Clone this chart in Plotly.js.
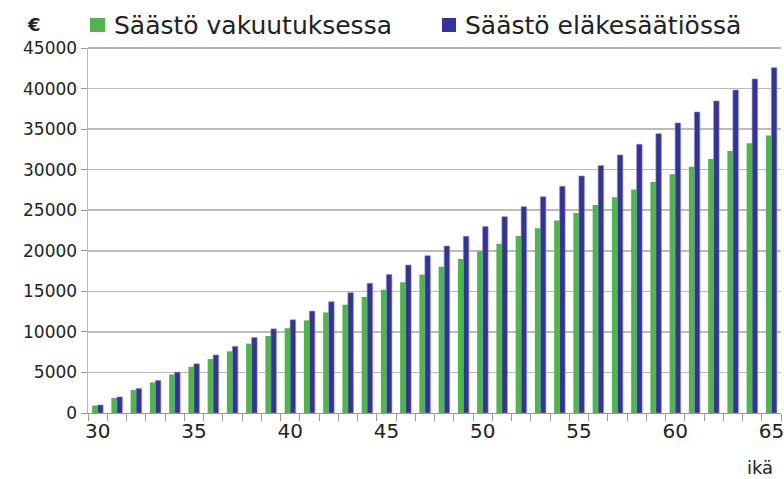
<!DOCTYPE html>
<html>
<head>
<meta charset="utf-8">
<script src="https://cdn.plot.ly/plotly-3.0.1.min.js"></script>
<style>html,body{margin:0;padding:0;background:#fff;}#chart{width:784px;height:479px;}</style>
</head>
<body>
<div id="chart"></div>
<script>
const ages = [30,31,32,33,34,35,36,37,38,39,40,41,42,43,44,45,46,47,48,49,50,51,52,53,54,55,56,57,58,59,60,61,62,63,64,65];
const savingsInsurance = [910,1860,2850,3780,4750,5700,6650,7600,8550,9500,10450,11420,12400,13350,14300,15200,16110,17060,18040,18990,19930,20880,21820,22770,23720,24660,25650,26590,27540,28480,29430,30370,31320,32310,33250,34200];
const savingsFoundation = [990,1980,3020,4010,5040,6070,7150,8220,9300,10370,11490,12560,13720,14830,15990,17060,18250,19400,20590,21780,22980,24210,25440,26670,27950,29220,30500,31810,33130,34440,35760,37110,38470,39830,41180,42580];
const seriesNames = ['Säästö vakuutuksessa', 'Säästö eläkesäätiössä'];
const seriesColors = ['#4db848', '#333399'];
const xTickVals = [30,35,40,45,50,55,60,65];
const yTickVals = [0,5000,10000,15000,20000,25000,30000,35000,40000,45000];

const font = 'DejaVu Sans, Verdana, sans-serif';
const traces = [
  {type:'bar', name: seriesNames[0], x: ages, y: savingsInsurance,
   marker:{color:seriesColors[0], line:{width:0}}},
  {type:'bar', name: seriesNames[1], x: ages, y: savingsFoundation,
   marker:{color:seriesColors[1], line:{width:0.6, color:'#8c8cc8'}}}
];

// manual legend (paper coordinates of the plot area: left 88px, width 693px, bottom 413px, height 365px)
const legendX = [[0.0029, 0.0245], [0.5108, 0.5310]];
const legendTextX = [0.0346, 0.5411];
const legendShapes = legendX.map((xx, i) => ({type:'rect', xref:'paper', yref:'paper', x0:xx[0], x1:xx[1],
  y0:1.0438, y1:1.0822, fillcolor:seriesColors[i], line:{width:0}}));
const legendTexts = seriesNames.map((n, i) => ({text:n, xref:'paper', yref:'paper', x:legendTextX[i], y:1.063,
  xanchor:'left', yanchor:'middle', showarrow:false, font:{size:25, family:font, color:'#222'}}));

const layout = {
  width:784, height:479,
  margin:{l:88, r:3, t:48, b:66},
  paper_bgcolor:'#fff', plot_bgcolor:'#fff',
  font:{family:font, color:'#222'},
  barmode:'group', bargap:0.43, bargroupgap:0,
  showlegend:false,
  xaxis:{range:[29.5,65.5], tickmode:'array', tickvals:xTickVals, ticks:'', showgrid:false,
         showline:true, linecolor:'#999', linewidth:1, zeroline:false, ticklabeloverflow:'allow',
         tickfont:{size:20, family:font, color:'#222'},
         minor:{tick0:29.5, dtick:1, ticks:'outside', ticklen:7, tickcolor:'#999', showgrid:false}},
  yaxis:{range:[0,45000], tickmode:'array', tickvals:yTickVals, tickformat:'d', ticks:'outside', ticklen:6, tickcolor:'#999',
         showgrid:true, gridcolor:'#bbb', gridwidth:1.5, showline:true, linecolor:'#bbb', linewidth:1.5,
         zeroline:false, tickfont:{size:17, family:font, color:'#222'}},
  shapes:[{type:'line', xref:'paper', yref:'paper', x0:0, x1:1, y0:1, y1:1, line:{color:'#999', width:1.5}}].concat(legendShapes),
  annotations:[
    {text:'<b>€</b>', xref:'paper', yref:'paper', x:-0.078, y:1.03, xanchor:'center', yanchor:'bottom', showarrow:false,
     font:{size:18, family:font, color:'#222'}},
    {text:'ikä', xref:'paper', yref:'paper', x:0.99, y:-0.1805, xanchor:'right', yanchor:'bottom', showarrow:false,
     borderpad:0, font:{size:18, family:font, color:'#222'}}
  ].concat(legendTexts)
};
Plotly.newPlot('chart', traces, layout, {displayModeBar:false, staticPlot:true});
</script>
</body>
</html>
